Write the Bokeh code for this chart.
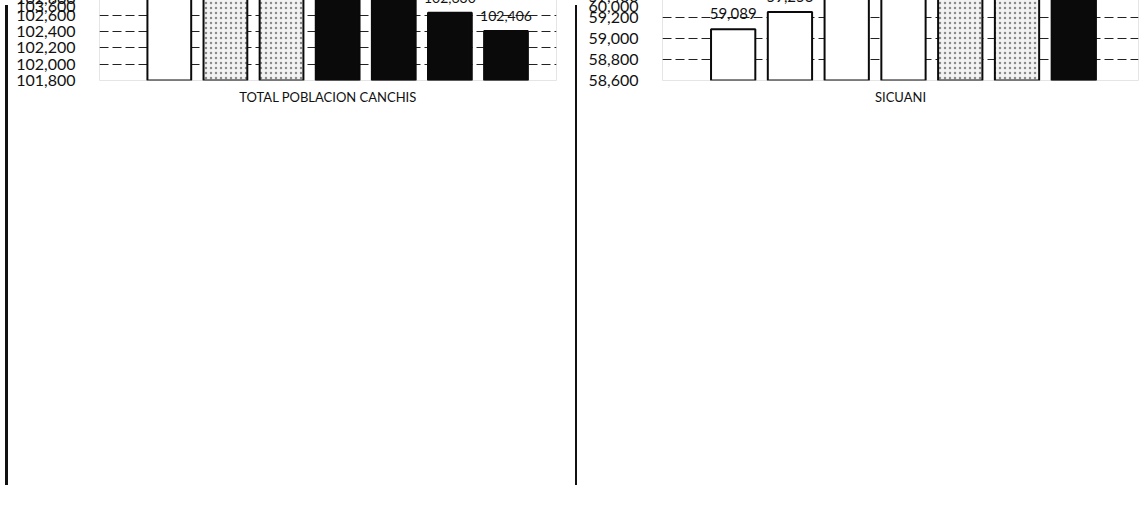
from bokeh.plotting import figure
from bokeh.models import Range1d, FixedTicker, NumeralTickFormatter, Legend, LegendItem, ColumnDataSource, Div
from bokeh.layouts import row
from bokeh.core.properties import value
from bokeh.embed import file_html
from bokeh.resources import INLINE

# ---------------- data ----------------
years = ["2008", "2009", "2010", "2011", "2012", "2013", "2014"]

canchis_title = "POBLACION TOTAL PROVINCIA DE CANCHIS"
canchis_category = "TOTAL POBLACION CANCHIS"
canchis_values = [103371, 103268, 103141, 102995, 102826, 102630, 102406]
canchis_ticks = [101800, 102000, 102200, 102400, 102600, 102800, 103000, 103200, 103400, 103600]
canchis_style = ["white", "stipple", "stipple", "black", "black", "black", "black"]

sicuani_title = "POBLACION DEL DISTRITO DE SICUANI"
sicuani_category = "SICUANI"
sicuani_values = [59089, 59253, 59399, 59532, 59649, 59751, 59833]
sicuani_ticks = [58600, 58800, 59000, 59200, 59400, 59600, 59800, 60000]
sicuani_style = ["white", "white", "white", "white", "stipple", "stipple", "black"]

FONT = "Lato"
STYLE_FILL = {"white": "white", "stipple": "#f2f2f2", "black": "#0a0a0a"}
STYLE_HATCH = {"white": " ", "stipple": "dot", "black": " "}


def make_panel(title, category, values, ticks, styles, width, height,
               mb_left, mb_right, mb_top, mb_bottom, x_start, x_end,
               title_size, title_standoff, label_size, legend_spacing):
    p = figure(width=width, height=height,
               x_range=Range1d(x_start, x_end),
               y_range=Range1d(ticks[0], ticks[-1]),
               output_backend="svg", toolbar_location=None, title=title,
               min_border_left=mb_left, min_border_right=mb_right,
               min_border_top=mb_top, min_border_bottom=mb_bottom)
    p.title.align = "center"
    p.title.text_font = FONT
    p.title.text_font_size = title_size
    p.title.text_font_style = "bold"
    p.title.text_color = "#111111"
    p.title.standoff = title_standoff

    xs = list(range(len(values)))
    items = []
    for style in ["white", "stipple", "black"]:
        idx = [i for i, s in enumerate(styles) if s == style]
        if not idx:
            continue
        src = ColumnDataSource(dict(x=[xs[i] for i in idx], top=[values[i] for i in idx]))
        r = p.vbar(x="x", top="top", bottom=ticks[0], width=0.78, source=src,
                   fill_color=STYLE_FILL[style], line_color="#0a0a0a", line_width=2,
                   hatch_pattern=STYLE_HATCH[style], hatch_color="#444444",
                   hatch_scale=5, hatch_alpha=0.6)
        for j, i in enumerate(idx):
            items.append((i, LegendItem(label=years[i], renderers=[r], index=j)))
    items = [it for _, it in sorted(items, key=lambda t: t[0])]

    lab_src = ColumnDataSource(dict(x=xs, top=values, label=[f"{v:,}" for v in values]))
    p.text(x="x", y="top", text="label", source=lab_src, text_align="center",
           text_baseline="bottom", y_offset=-10,
           text_font=value(FONT), text_font_size=label_size, text_color="#111111")

    # axes
    p.yaxis.ticker = FixedTicker(ticks=ticks)
    p.yaxis.formatter = NumeralTickFormatter(format="0,0")
    p.yaxis.axis_line_alpha = 0.0
    p.yaxis.major_tick_line_alpha = 0.0
    p.yaxis.minor_tick_line_alpha = 0.0
    p.yaxis.major_label_standoff = 18
    p.yaxis.major_label_text_font = FONT
    p.yaxis.major_label_text_font_size = "16px"
    p.yaxis.major_label_text_color = "#111111"

    p.xaxis.axis_label = category
    p.xaxis.axis_label_text_font = FONT
    p.xaxis.axis_label_text_font_size = "13px"
    p.xaxis.axis_label_text_font_style = "normal"
    p.xaxis.axis_label_text_color = "#111111"
    p.xaxis.major_label_text_alpha = 0.0
    p.xaxis.major_tick_line_alpha = 0.0
    p.xaxis.minor_tick_line_alpha = 0.0
    p.xaxis.axis_line_alpha = 0.0
    p.xaxis.axis_label_standoff = 2

    p.xgrid.visible = False
    p.ygrid.ticker = FixedTicker(ticks=ticks)
    p.ygrid.grid_line_color = "#222222"
    p.ygrid.grid_line_dash = "9 4"

    legend = Legend(items=items, orientation="horizontal", location="center",
                    glyph_width=10, glyph_height=10, label_standoff=4,
                    spacing=legend_spacing, padding=6, margin=4,
                    label_text_font=FONT, label_text_font_size="14px",
                    label_text_color="#111111", border_line_alpha=0.0,
                    background_fill_alpha=0.0)
    p.add_layout(legend, "below")
    return p


H = 480
left = make_panel(canchis_title, canchis_category, canchis_values, canchis_ticks, canchis_style,
                  width=557, height=H, mb_left=80, mb_right=14, mb_top=80, mb_bottom=80,
                  x_start=-1.244, x_end=6.9, title_size="17px", title_standoff=28,
                  label_size="14px", legend_spacing=13)

right = make_panel(sicuani_title, sicuani_category, sicuani_values, sicuani_ticks, sicuani_style,
                   width=558, height=H, mb_left=80, mb_right=2, mb_top=58, mb_bottom=68,
                   x_start=-1.245, x_end=7.14, title_size="15px", title_standoff=12,
                   label_size="15px", legend_spacing=16)

BORDER = {"background-color": "#111111"}
left_line = Div(text="", width=3, height=H, styles=BORDER)
mid_line = Div(text="", width=2, height=H, styles=BORDER)

layout = row(left_line, left, mid_line, right)
open("out.html", "w").write(file_html(layout, INLINE))
